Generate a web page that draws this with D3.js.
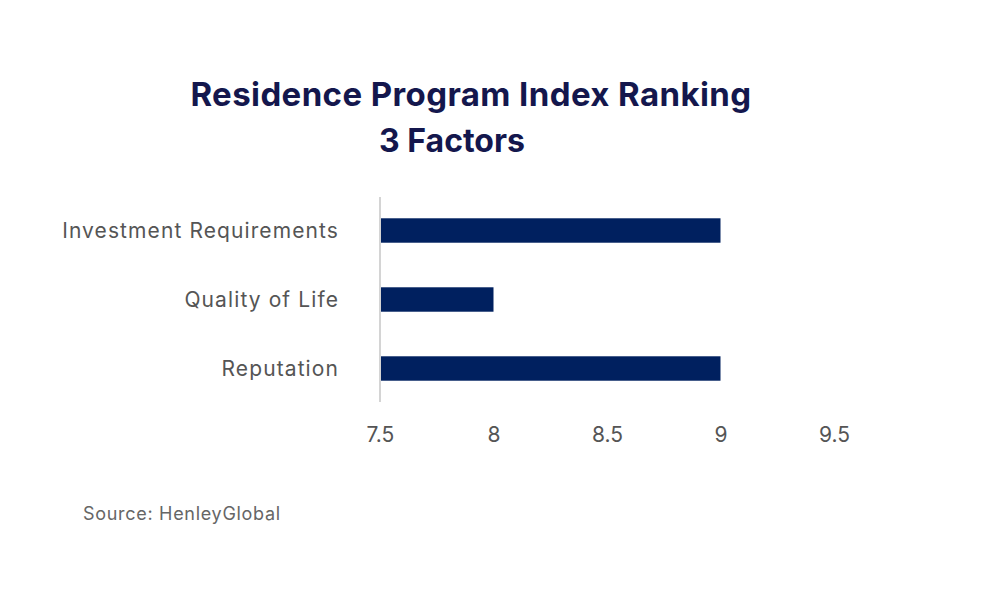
<!DOCTYPE html>
<html>
<head>
<meta charset="utf-8">
<script src="https://cdn.jsdelivr.net/npm/d3@7"></script>
<style>
  html, body { margin: 0; padding: 0; background: #fff; }
  svg { display: block; }
  .title { font-family: Inter, "Noto Sans", sans-serif; font-weight: 700; fill: #14174d; }
  .cat { font-family: Inter, "Noto Sans", sans-serif; font-weight: 400; fill: #555; }
  .tick text { font-family: Inter, "Noto Sans", sans-serif; fill: #555; }
  .source { font-family: Inter, "Noto Sans", sans-serif; fill: #666; }
</style>
</head>
<body>
<div id="chart"></div>
<script>
// ── Data ─────────────────────────────────────────────────────────────────────
const categories = ['Investment Requirements', 'Quality of Life', 'Reputation'];
const scores     = [9, 8, 9];
const xTicks     = [7.5, 8, 8.5, 9, 9.5];
const xDomain    = [7.5, 9.5];

// ── Layout ───────────────────────────────────────────────────────────────────
const W = 1000, H = 612;

const svg = d3.select('#chart').append('svg')
  .attr('width', W)
  .attr('height', H);

const x = d3.scaleLinear().domain(xDomain).range([380, 834]);
const y = d3.scaleBand().domain(categories).range([196, 403])
  .paddingInner(0.646)
  .paddingOuter(0.323);

// ── Title ────────────────────────────────────────────────────────────────────
svg.append('text').attr('class', 'title')
  .attr('x', 471).attr('y', 106)
  .attr('text-anchor', 'middle')
  .attr('font-size', 33)
  .attr('letter-spacing', 0.4)
  .text('Residence Program Index Ranking');

svg.append('text').attr('class', 'title')
  .attr('x', 452).attr('y', 152)
  .attr('text-anchor', 'middle')
  .attr('font-size', 32)
  .text('3 Factors');

// ── Bars ─────────────────────────────────────────────────────────────────────
svg.append('g').selectAll('rect')
  .data(categories)
  .enter().append('rect')
  .attr('x', x(xDomain[0]))
  .attr('y', d => y(d))
  .attr('width', (d, i) => x(scores[i]) - x(xDomain[0]))
  .attr('height', y.bandwidth())
  .attr('fill', '#00205f');

// ── Axis line (value axis baseline) ──────────────────────────────────────────
svg.append('line')
  .attr('x1', x(xDomain[0])).attr('x2', x(xDomain[0]))
  .attr('y1', y.range()[0] + 1).attr('y2', y.range()[1] - 1)
  .attr('stroke', '#d4d4d4')
  .attr('stroke-width', 2);

// ── Category labels ──────────────────────────────────────────────────────────
svg.append('g').selectAll('text')
  .data(categories)
  .enter().append('text')
  .attr('class', 'cat')
  .attr('x', 339)
  .attr('y', d => y(d) + y.bandwidth() / 2)
  .attr('dy', '0.35em')
  .attr('text-anchor', 'end')
  .attr('font-size', 21)
  .attr('letter-spacing', 1.1)
  .text(d => d);

// ── X axis ───────────────────────────────────────────────────────────────────
const xAxis = d3.axisBottom(x)
  .tickValues(xTicks)
  .tickFormat(d3.format('~g'))
  .tickSize(0)
  .tickPadding(0);

svg.append('g')
  .attr('transform', 'translate(0,427)')
  .call(xAxis)
  .call(g => g.select('.domain').remove())
  .call(g => g.selectAll('.tick text').attr('font-size', 21).attr('dy', '0.71em'));

// ── Source ───────────────────────────────────────────────────────────────────
svg.append('text').attr('class', 'source')
  .attr('x', 83).attr('y', 520)
  .attr('font-size', 18)
  .attr('letter-spacing', 0.7)
  .text('Source: HenleyGlobal');
</script>
</body>
</html>
